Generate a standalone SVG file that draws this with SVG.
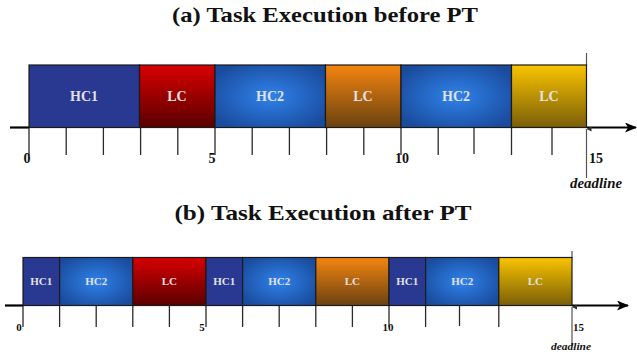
<svg xmlns="http://www.w3.org/2000/svg" width="637" height="356" viewBox="0 0 637 356">
<defs>
<radialGradient id="gHC2" cx="0.5" cy="0.5" r="0.6">
<stop offset="0" stop-color="#2f82ea"/>
<stop offset="1" stop-color="#1a4c9e"/>
</radialGradient>
<linearGradient id="gRed" x1="0" y1="0" x2="0" y2="1">
<stop offset="0" stop-color="#d80000"/>
<stop offset="1" stop-color="#5a0000"/>
</linearGradient>
<linearGradient id="gOrange" x1="0" y1="0" x2="0" y2="1">
<stop offset="0" stop-color="#f48510"/>
<stop offset="1" stop-color="#6a4210"/>
</linearGradient>
<linearGradient id="gYellow" x1="0" y1="0" x2="0" y2="1">
<stop offset="0" stop-color="#fac400"/>
<stop offset="1" stop-color="#7a5e08"/>
</linearGradient>
<marker id="arr" viewBox="0 0 12 10" refX="11" refY="5" markerWidth="12" markerHeight="10" markerUnits="userSpaceOnUse" orient="auto">
<path d="M0,0 L12,5 L0,10 L3,5 Z" fill="#000"/>
</marker>
<marker id="up" viewBox="0 0 6 6" refX="3" refY="0" markerWidth="5" markerHeight="5" markerUnits="userSpaceOnUse" orient="auto-start-reverse">
<path d="M0,6 L3,0 L6,6 Z" fill="#333"/>
</marker>
</defs>
<style>
.title{font-family:"Liberation Serif",serif;font-weight:bold;font-size:22px;fill:#111;text-anchor:middle}
.box{stroke:#1a1a1a;stroke-width:1.2}
.hc1{fill:#293890}
.hc2{fill:url(#gHC2)}
.red{fill:url(#gRed)}
.org{fill:url(#gOrange)}
.yel{fill:url(#gYellow)}
.la{font-family:"Liberation Serif",serif;font-weight:bold;font-size:14px;fill:#e2e2e2;text-anchor:middle}
.lb{font-family:"Liberation Serif",serif;font-weight:bold;font-size:11px;fill:#e2e2e2;text-anchor:middle}
.na{font-family:"Liberation Serif",serif;font-weight:bold;font-size:14px;fill:#111}
.nb{font-family:"Liberation Serif",serif;font-weight:bold;font-size:11px;fill:#111}
.dla{font-family:"Liberation Serif",serif;font-weight:bold;font-style:italic;font-size:14px;fill:#111}
.dlb{font-family:"Liberation Serif",serif;font-weight:bold;font-style:italic;font-size:11px;fill:#111}
.tick{stroke:#2a2a2a;stroke-width:1.3}
.axis{stroke:#000;stroke-width:2.2;fill:none}
.dl{stroke:#555;stroke-width:1.2}
</style>

<text class="title" x="325" y="22" textLength="306" lengthAdjust="spacingAndGlyphs">(a) Task Execution before PT</text>
<text class="title" x="323" y="220" textLength="297" lengthAdjust="spacingAndGlyphs">(b) Task Execution after PT</text>

<g id="connectors">
<!-- (a) axis -->
<line class="axis" x1="10" y1="127.5" x2="29" y2="127.5"/>
<line class="axis" x1="587" y1="127.5" x2="636" y2="127.5" marker-end="url(#arr)"/>
<g class="tick">
<line x1="29" y1="128" x2="29" y2="155"/>
<line x1="66.2" y1="128" x2="66.2" y2="155"/>
<line x1="103.4" y1="128" x2="103.4" y2="155"/>
<line x1="140.6" y1="128" x2="140.6" y2="155"/>
<line x1="177.8" y1="128" x2="177.8" y2="155"/>
<line x1="215" y1="128" x2="215" y2="155"/>
<line x1="252.2" y1="128" x2="252.2" y2="155"/>
<line x1="289.4" y1="128" x2="289.4" y2="155"/>
<line x1="326.6" y1="128" x2="326.6" y2="155"/>
<line x1="363.8" y1="128" x2="363.8" y2="155"/>
<line x1="401" y1="128" x2="401" y2="155"/>
<line x1="438.2" y1="128" x2="438.2" y2="155"/>
<line x1="474" y1="128" x2="474" y2="154"/>
<line x1="511.5" y1="128" x2="511.5" y2="155"/>
<line x1="552" y1="128" x2="552" y2="155"/>
</g>
<line class="dl" x1="586.5" y1="53" x2="586.5" y2="65"/>
<line class="dl" x1="586.5" y1="178" x2="586.5" y2="129" marker-end="url(#up)"/>
<!-- (b) axis -->
<line class="axis" x1="5" y1="305.5" x2="23" y2="305.5"/>
<line class="axis" x1="572" y1="305.5" x2="628" y2="305.5" marker-end="url(#arr)"/>
<g class="tick">
<line x1="23" y1="306" x2="23" y2="327"/>
<line x1="59.6" y1="306" x2="59.6" y2="327"/>
<line x1="96.2" y1="306" x2="96.2" y2="327"/>
<line x1="132.8" y1="306" x2="132.8" y2="327"/>
<line x1="169.4" y1="306" x2="169.4" y2="327"/>
<line x1="206" y1="306" x2="206" y2="327"/>
<line x1="242.6" y1="306" x2="242.6" y2="327"/>
<line x1="279.2" y1="306" x2="279.2" y2="327"/>
<line x1="315.8" y1="306" x2="315.8" y2="327"/>
<line x1="352.4" y1="306" x2="352.4" y2="327"/>
<line x1="389" y1="306" x2="389" y2="327"/>
<line x1="425.6" y1="306" x2="425.6" y2="327"/>
<line x1="459.5" y1="306" x2="459.5" y2="326"/>
<line x1="498.8" y1="306" x2="498.8" y2="327"/>
</g>
<line class="dl" x1="572" y1="251" x2="572" y2="258"/>
<line class="dl" x1="572" y1="346" x2="572" y2="307" marker-end="url(#up)"/>
</g>

<!-- (a) boxes -->
<g id="a-hc1"><rect class="box hc1" x="29" y="65" width="110.5" height="62.5"/><text class="la" x="84" y="101">HC1</text></g>
<g id="a-lc1"><rect class="box red" x="139.5" y="65" width="75.5" height="62.5"/><text class="la" x="177" y="101">LC</text></g>
<g id="a-hc2"><rect class="box hc2" x="215" y="65" width="110.5" height="62.5"/><text class="la" x="270" y="101">HC2</text></g>
<g id="a-lc2"><rect class="box org" x="325.5" y="65" width="75.5" height="62.5"/><text class="la" x="363" y="101">LC</text></g>
<g id="a-hc2b"><rect class="box hc2" x="401" y="65" width="110.5" height="62.5"/><text class="la" x="456" y="101">HC2</text></g>
<g id="a-lc3"><rect class="box yel" x="511.5" y="65" width="75" height="62.5"/><text class="la" x="549" y="101">LC</text></g>

<text class="na" x="27" y="163" text-anchor="middle">0</text>
<text class="na" x="212" y="163" text-anchor="middle">5</text>
<text class="na" x="402" y="163" text-anchor="middle">10</text>
<text class="na" x="589" y="163">15</text>
<text class="dla" x="570" y="188" textLength="52" lengthAdjust="spacingAndGlyphs">deadline</text>

<!-- (b) boxes -->
<g id="b-hc1"><rect class="box hc1" x="23" y="257.5" width="36.6" height="48"/><text class="lb" x="41.3" y="285">HC1</text></g>
<g id="b-hc2"><rect class="box hc2" x="59.6" y="257.5" width="73.2" height="48"/><text class="lb" x="96.2" y="285">HC2</text></g>
<g id="b-lc1"><rect class="box red" x="132.8" y="257.5" width="73.2" height="48"/><text class="lb" x="169.4" y="285">LC</text></g>
<g id="b-hc1b"><rect class="box hc1" x="206" y="257.5" width="36.6" height="48"/><text class="lb" x="224.3" y="285">HC1</text></g>
<g id="b-hc2b"><rect class="box hc2" x="242.6" y="257.5" width="73.2" height="48"/><text class="lb" x="279.2" y="285">HC2</text></g>
<g id="b-lc2"><rect class="box org" x="315.8" y="257.5" width="73.2" height="48"/><text class="lb" x="352.4" y="285">LC</text></g>
<g id="b-hc1c"><rect class="box hc1" x="389" y="257.5" width="36.6" height="48"/><text class="lb" x="407.3" y="285">HC1</text></g>
<g id="b-hc2c"><rect class="box hc2" x="425.6" y="257.5" width="73.2" height="48"/><text class="lb" x="462.2" y="285">HC2</text></g>
<g id="b-lc3"><rect class="box yel" x="498.8" y="257.5" width="73.2" height="48"/><text class="lb" x="535.4" y="285">LC</text></g>

<text class="nb" x="19" y="331" text-anchor="middle">0</text>
<text class="nb" x="202" y="331" text-anchor="middle">5</text>
<text class="nb" x="388" y="331" text-anchor="middle">10</text>
<text class="nb" x="573" y="331">15</text>
<text class="dlb" x="551" y="350" textLength="40" lengthAdjust="spacingAndGlyphs">deadline</text>
</svg>
